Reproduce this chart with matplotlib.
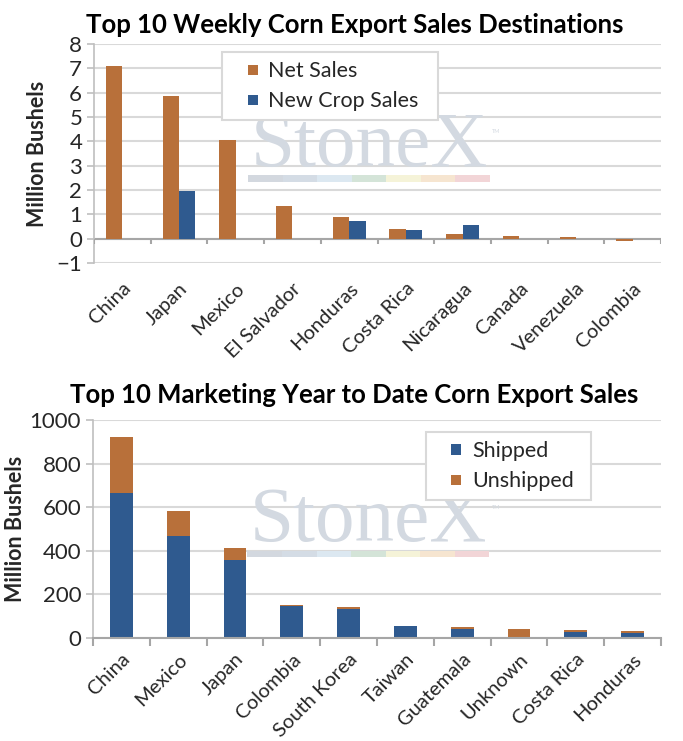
import matplotlib
matplotlib.use("Agg")
import matplotlib.pyplot as plt
import numpy as np
from matplotlib.patches import Rectangle
from matplotlib.legend_handler import HandlerPatch

plt.rcParams['font.family'] = ['Lato', 'DejaVu Sans']

# ---- data ----
weekly_countries = ["China", "Japan", "Mexico", "El Salvador", "Honduras",
                    "Costa Rica", "Nicaragua", "Canada", "Venezuela", "Colombia"]
net_sales = [7.1, 5.88, 4.05, 1.35, 0.9, 0.38, 0.2, 0.12, 0.05, -0.08]
new_crop_sales = [0, 1.97, 0, 0, 0.72, 0.35, 0.55, 0, 0, 0]

myt_countries = ["China", "Mexico", "Japan", "Colombia", "South Korea",
                 "Taiwan", "Guatemala", "Unknown", "Costa Rica", "Honduras"]
shipped = [665, 470, 360, 148, 135, 53, 40, 0, 27, 22]
unshipped = [255, 113, 53, 4, 5, 4, 10, 42, 9, 10]

top_yticks = list(range(-1, 9))
bot_yticks = [0, 200, 400, 600, 800, 1000]

ORANGE = '#B8703A'
BLUE = '#2F5A8F'
GRID = '#D9D9D9'
TXT = '#262626'

W, H = 683, 741
fig = plt.figure(figsize=(W / 100, H / 100), dpi=100)


def axrect(l, r, t, b):
    return [l / W, 1 - b / H, (r - l) / W, (b - t) / H]


def watermark(ax):
    ax.text(0.485, 0.53, "StoneX", transform=ax.transAxes, ha='center', va='center',
            fontsize=57, family='Liberation Serif',
            color='#D3D9E1', zorder=0.6)
    ax.text(0.71, 0.6, "TM", transform=ax.transAxes, ha='center', va='center',
            fontsize=4, color='#D3D9E1', zorder=0.6)
    cols = ['#D3D8DF', '#D4DCE5', '#DCE8F1', '#D4E4D8', '#F5F3D8', '#F6E5D0', '#F2D5D7']
    x0, x1 = 0.272, 0.698
    w = (x1 - x0) / len(cols)
    for i, c in enumerate(cols):
        ax.add_patch(Rectangle((x0 + i * w, 0.372), w, 0.028, transform=ax.transAxes,
                               facecolor=c, edgecolor='none', zorder=0.6))


def style(ax):
    ax.set_facecolor('white')
    ax.yaxis.grid(True, color=GRID, lw=1.5, zorder=0)
    ax.set_axisbelow(True)
    for s in ['top', 'right']:
        ax.spines[s].set_visible(False)
    ax.spines['left'].set_color('#BFBFBF')
    ax.spines['left'].set_linewidth(1.2)
    ax.tick_params(axis='y', colors='#BFBFBF', labelcolor=TXT, labelsize=16, length=5, width=1.2)


def square(legend, orig_handle, xdescent, ydescent, width, height, fontsize):
    s = 0.47 * fontsize
    return Rectangle((-xdescent + width - s, -ydescent + (height - s) / 2), s, s)


def legend(ax, anchor, labels, colors):
    handles = [Rectangle((0, 0), 1, 1, facecolor=c, edgecolor='none') for c in colors]
    leg = ax.legend(handles, labels, loc='upper left', bbox_to_anchor=anchor, mode='expand',
                    fontsize=15.5, frameon=True, fancybox=False, edgecolor='#D9D9D9',
                    framealpha=1, handlelength=1.25, handleheight=0.9, handletextpad=0.5,
                    labelspacing=0.45, borderpad=0.4, borderaxespad=0,
                    handler_map={Rectangle: HandlerPatch(patch_func=square)})
    leg.get_frame().set_linewidth(1.5)
    for t in leg.get_texts():
        t.set_color(TXT)
    return leg


# ---- top chart ----
ax1 = fig.add_axes(axrect(94, 661, 44, 263))
style(ax1)
x = np.arange(len(weekly_countries))
bw = 0.29
ax1.bar(x - bw / 2, net_sales, bw, color=ORANGE, zorder=2)
ax1.bar(x + bw / 2, new_crop_sales, bw, color=BLUE, zorder=2)
ax1.set_ylim(-1, 8)
ax1.set_yticks(top_yticks)
ax1.set_xlim(-0.5, len(x) - 0.5)
ax1.spines['bottom'].set_visible(False)
ax1.axhline(0, color='#A6A6A6', lw=1.5, zorder=1.5)
bounds = np.arange(len(x) + 1) - 0.5
ax1.vlines(bounds, 0, -0.2, color='#A6A6A6', lw=1.5, zorder=3)
ax1.set_xticks(x)
ax1.set_xticklabels(weekly_countries, rotation=45, ha='right', rotation_mode='anchor',
                    fontsize=14.5, color=TXT)
ax1.tick_params(axis='x', length=0, pad=12)
ax1.set_ylabel("Million Bushels", fontsize=15.5, fontweight='bold', color=TXT, labelpad=6)
ax1.set_title("Top 10 Weekly Corn Export Sales Destinations", fontsize=18.5,
              fontweight='bold', color='black', pad=8, x=0.46)
watermark(ax1)
legend(ax1, (0.226, 0.5, 0.381, 0.463), ['Net Sales', 'New Crop Sales'], [ORANGE, BLUE])

# ---- bottom chart ----
ax2 = fig.add_axes(axrect(93, 661, 420, 638))
style(ax2)
x2 = np.arange(len(myt_countries))
bw2 = 0.4
ax2.bar(x2, shipped, bw2, color=BLUE, zorder=2)
ax2.bar(x2, unshipped, bw2, bottom=shipped, color=ORANGE, zorder=2)
ax2.set_ylim(0, 1000)
ax2.set_yticks(bot_yticks)
ax2.set_xlim(-0.5, len(x2) - 0.5)
ax2.spines['bottom'].set_color('#A6A6A6')
ax2.spines['bottom'].set_linewidth(1.5)
ax2.spines['bottom'].set_zorder(3)
ax2.set_xticks(np.arange(len(x2) + 1) - 0.5, minor=True)
ax2.set_xticks(x2)
ax2.set_xticklabels(myt_countries, rotation=45, ha='right', rotation_mode='anchor',
                    fontsize=14.5, color=TXT)
ax2.tick_params(axis='x', which='major', length=0, pad=9)
ax2.tick_params(axis='x', which='minor', length=6, width=1.5, color='#A6A6A6')
ax2.set_ylabel("Million Bushels", fontsize=15.5, fontweight='bold', color=TXT, labelpad=3)
ax2.set_title("Top 10 Marketing Year to Date Corn Export Sales", fontsize=18.5,
              fontweight='bold', color='black', pad=12, x=0.46)
watermark(ax2)
legend(ax2, (0.586, 0.5, 0.29, 0.445), ['Shipped', 'Unshipped'], [BLUE, ORANGE])

fig.savefig("out.png", dpi=100, facecolor='white')
